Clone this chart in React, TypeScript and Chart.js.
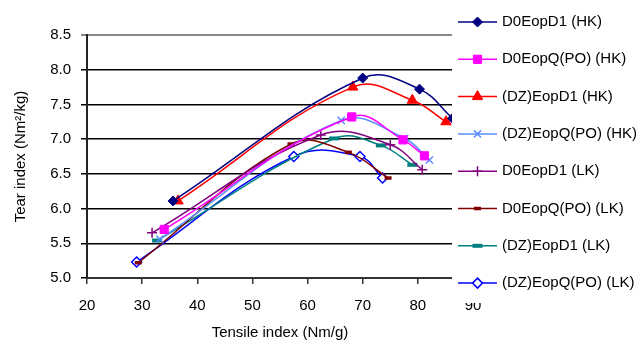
import React, { useEffect, useRef } from 'react';
import { Chart, registerables } from 'chart.js';
import { drawPoint } from 'chart.js/helpers';

Chart.register(...registerables);

const FONT = "'Liberation Sans', Arial, sans-serif";

const seriesLabels = [
  'D0EopD1 (HK)',
  'D0EopQ(PO) (HK)',
  '(DZ)EopD1 (HK)',
  '(DZ)EopQ(PO) (HK)',
  'D0EopD1 (LK)',
  'D0EopQ(PO) (LK)',
  '(DZ)EopD1 (LK)',
  '(DZ)EopQ(PO) (LK)',
];

// Tensile index (Nm/g) and Tear index (Nm2/kg) per series
const d0eopd1HK_x = [35.6, 70.0, 80.3, 86.3];
const d0eopd1HK_y = [6.11, 7.88, 7.72, 7.30];
const d0eopqpoHK_x = [34.0, 68.0, 77.3, 81.2];
const d0eopqpoHK_y = [5.70, 7.32, 6.99, 6.76];
const dzeopd1HK_x = [36.5, 68.2, 79.0, 85.1];
const dzeopd1HK_y = [6.11, 7.75, 7.56, 7.25];
const dzeopqpoHK_x = [33.2, 66.1, 77.6, 82.1];
const dzeopqpoHK_y = [5.56, 7.27, 7.01, 6.70];
const d0eopd1LK_x = [31.8, 62.4, 75.0, 80.8];
const d0eopd1LK_y = [5.65, 7.06, 6.92, 6.56];
const d0eopqpoLK_x = [29.3, 57.0, 67.4, 74.6];
const d0eopqpoLK_y = [5.22, 6.93, 6.81, 6.44];
const dzeopd1LK_x = [32.7, 64.8, 73.3, 79.0];
const dzeopd1LK_y = [5.54, 7.01, 6.91, 6.63];
const dzeopqpoLK_x = [29.0, 57.5, 69.5, 73.6];
const dzeopqpoLK_y = [5.23, 6.75, 6.75, 6.44];

const xTicks = { min: 20, max: 90, step: 10 };
const yTicks = { min: 5.0, max: 8.5, step: 0.5 };

const pts = (xs: number[], ys: number[]) => xs.map((x, i) => ({ x, y: ys[i] }));

const styles = [
  { color: '#000080', pointStyle: 'rectRot', radius: 5, fill: '#000080', bw: 1 },
  { color: '#FF00FF', pointStyle: 'rect', radius: 5.8, fill: '#FF00FF', bw: 1 },
  { color: '#FF0000', pointStyle: 'triangle', radius: 6, fill: '#FF0000', bw: 1 },
  { color: '#5B8CFF', pointStyle: 'crossRot', radius: 5, fill: '#5B8CFF', bw: 1.5 },
  { color: '#800080', pointStyle: 'cross', radius: 5, fill: '#800080', bw: 1.5 },
  { color: '#800000', pointStyle: 'line', radius: 3.5, fill: '#800000', bw: 3.5 },
  { color: '#008080', pointStyle: 'line', radius: 5, fill: '#008080', bw: 4 },
  { color: '#0000FF', pointStyle: 'rectRot', radius: 5, fill: '#FFFFFF', bw: 1.5 },
];

const seriesData = [
  pts(d0eopd1HK_x, d0eopd1HK_y),
  pts(d0eopqpoHK_x, d0eopqpoHK_y),
  pts(dzeopd1HK_x, dzeopd1HK_y),
  pts(dzeopqpoHK_x, dzeopqpoHK_y),
  pts(d0eopd1LK_x, d0eopd1LK_y),
  pts(d0eopqpoLK_x, d0eopqpoLK_y),
  pts(dzeopd1LK_x, dzeopd1LK_y),
  pts(dzeopqpoLK_x, dzeopqpoLK_y),
];

const legendPlugin = {
  id: 'customLegend',
  afterDraw(chart: any) {
    const { ctx } = chart;
    ctx.save();
    ctx.fillStyle = '#FFFFFF';
    ctx.fillRect(452, 0, 190, 303);
    chart.data.datasets.forEach((ds: any, i: number) => {
      const y = 22 + i * 37.3;
      ctx.strokeStyle = ds.borderColor;
      ctx.lineWidth = 1.5;
      ctx.beginPath();
      ctx.moveTo(458, y);
      ctx.lineTo(497, y);
      ctx.stroke();
      ctx.fillStyle = ds.pointBackgroundColor;
      ctx.strokeStyle = ds.pointBorderColor;
      ctx.lineWidth = ds.pointBorderWidth;
      drawPoint(ctx, { pointStyle: ds.pointStyle, radius: ds.pointRadius, rotation: 0, borderWidth: ds.pointBorderWidth } as any, 477.5, y);
      ctx.fillStyle = '#000000';
      ctx.font = `15px ${FONT}`;
      ctx.textBaseline = 'middle';
      ctx.textAlign = 'left';
      ctx.fillText(ds.label, 502, y);
    });
    ctx.restore();
  },
};

export default function App() {
  const ref = useRef<HTMLCanvasElement>(null);
  useEffect(() => {
    document.body.style.margin = '0';
    const canvas = ref.current!;
    const chart = new Chart(canvas, {
      type: 'line',
      data: {
        datasets: seriesLabels.map((label, i) => ({
          label,
          data: seriesData[i],
          borderColor: styles[i].color,
          backgroundColor: styles[i].color,
          borderWidth: 1.5,
          tension: 0.4,
          fill: false,
          pointStyle: styles[i].pointStyle as any,
          pointRadius: styles[i].radius,
          pointBackgroundColor: styles[i].fill,
          pointBorderColor: styles[i].color,
          pointBorderWidth: styles[i].bw,
        })),
      },
      options: {
        responsive: false,
        animation: false,
        devicePixelRatio: 1,
        layout: { padding: { top: 35, right: 169, left: 0, bottom: 0 } },
        plugins: { legend: { display: false }, tooltip: { enabled: false } },
        scales: {
          x: {
            type: 'linear',
            min: xTicks.min,
            max: xTicks.max,
            afterFit: (s: any) => { s.height = 67; },
            ticks: { stepSize: xTicks.step, color: '#000', font: { family: FONT, size: 15 }, padding: 13, maxRotation: 0 },
            grid: { drawOnChartArea: false, drawTicks: true, tickLength: 6, color: '#333', lineWidth: 1.5 },
            border: { display: true, color: '#333', width: 2 },
            title: { display: true, text: 'Tensile index (Nm/g)', color: '#000', font: { family: FONT, size: 15 }, padding: { top: 0, bottom: 3 } },
          },
          y: {
            type: 'linear',
            min: yTicks.min,
            max: yTicks.max,
            afterFit: (s: any) => { s.width = 87; },
            ticks: { stepSize: yTicks.step, color: '#000', font: { family: FONT, size: 15 }, padding: 10, callback: (v: any) => Number(v).toFixed(1) },
            grid: {
              drawTicks: true,
              tickLength: 6,
              color: (c: any) => (c.tick && c.tick.value === 8.5 ? '#888' : '#000'),
              lineWidth: (c: any) => (c.tick && c.tick.value === 8.5 ? 2 : 1.5),
            },
            border: { display: true, color: '#222', width: 2 },
            title: { display: true, text: 'Tear index (Nm²/kg)', color: '#000', font: { family: FONT, size: 15 }, padding: { top: 12, bottom: 0 } },
          },
        },
      },
      plugins: [legendPlugin],
    } as any);
    return () => chart.destroy();
  }, []);
  return (
    <div style={{ width: 642, height: 345, background: '#fff' }}>
      <canvas ref={ref} width={642} height={345} style={{ display: 'block', width: 642, height: 345 }} />
    </div>
  );
}
